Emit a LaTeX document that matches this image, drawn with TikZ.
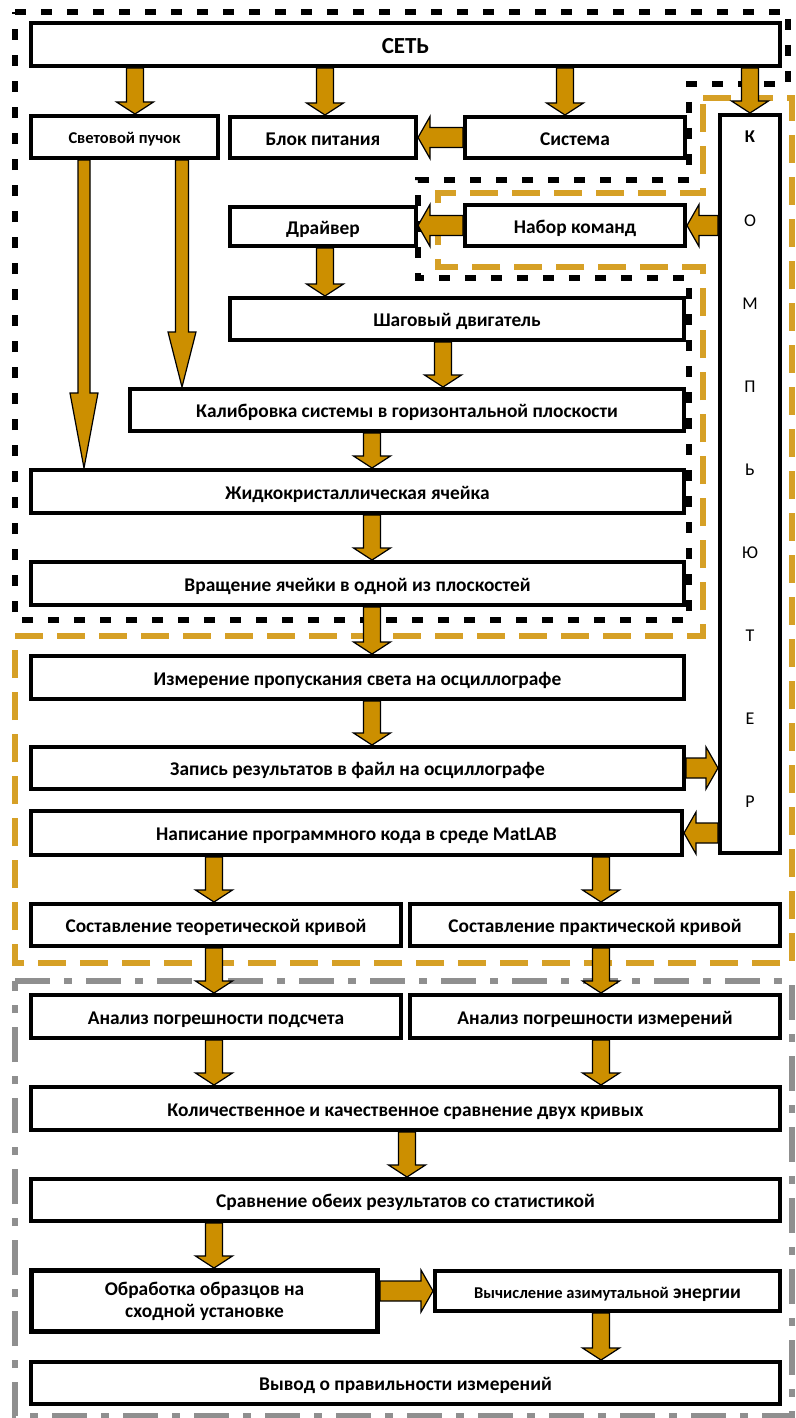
\documentclass[tikz,border=0pt]{standalone}
\usepackage{fontspec}
\setmainfont{Carlito}
\usetikzlibrary{calc}
\definecolor{arrc}{RGB}{204,143,0}
\definecolor{goldc}{RGB}{214,160,38}
\definecolor{greyc}{RGB}{143,143,143}
\newcommand\mainsize{\fontsize{19.4}{22}\selectfont}
\newcommand\smallsz{\fontsize{16.5}{19}\selectfont}
\newcommand\bx[7][]{\node[box,minimum width={(#5-#3-4)*1pt},minimum height={(#6-#4-4)*1pt},#1] (#2) at (#3,#4) {#7};}
\newcommand\blkgen[5]{\coordinate (bs) at (#1); \coordinate (be) at (#2); \coordinate (bh) at ($(be)!#5!(bs)$);
 \draw[barrow] ($(bs)!#3!90:(be)$) -- ($(bh)!#3!90:(be)$) -- ($(bh)!#4!90:(be)$) -- (be) -- ($(bh)!#4!-90:(be)$) -- ($(bh)!#3!-90:(be)$) -- ($(bs)!#3!-90:(be)$) -- cycle;}
\newcommand\blkv[2]{\blkgen{#1}{#2}{8.5pt}{18.5pt}{12pt}}
\newcommand\blkh[2]{\blkgen{#1}{#2}{10pt}{21pt}{12pt}}
\tikzset{
  box/.style={draw, line width=4pt, fill=white, anchor=north west, inner sep=1pt, align=center, font=\bfseries\mainsize, text height=15.5pt, text depth=0pt},
  barrow/.style={fill=arrc, draw=black, line width=1.2pt, line join=miter},
  bdash/.style={draw=black, line width=5.5pt, dash pattern=on 11pt off 15pt},
  gdash/.style={draw=goldc, line width=5.5pt, dash pattern=on 28pt off 14pt},
  gydash/.style={draw=greyc, line width=5.5pt, dash pattern=on 35pt off 14pt on 8pt off 14pt},
}
\begin{document}
\begin{tikzpicture}[x=1pt, y=-1pt]
\useasboundingbox (0,0) rectangle (795,1418);
\fill[white] (0,0) rectangle (795,1418);
% frames
\draw[bdash] (15,12) -- (788,12) -- (788,84) -- (689,84) -- (689,180) -- (418,180) -- (418,278) -- (689,278) -- (689,620) -- (15,620) -- cycle;
\draw[gdash] (703,98) -- (792,98) -- (792,963) -- (15,963) -- (15,636) -- (703,636) -- (703,267) -- (438,267) -- (438,193) -- (703,193) -- cycle;
\draw[gydash] (15,981) -- (792,981) -- (792,1416) -- (15,1416) -- cycle;
% boxes
\bx[font=\bfseries\fontsize{23}{26}\selectfont, text height=17.5pt]{set}{29}{21}{782}{68}{СЕТЬ}
\bx[font=\bfseries\smallsz, text height=13.5pt]{svet}{29}{114}{220}{160}{Световой пучок}
\bx{blok}{228}{115}{418}{160}{Блок питания}
\bx{sys}{463}{115}{687}{160}{Система}
\bx{comp}{718}{113}{782}{855}{}
\bx{drv}{228}{205}{418}{248}{Драйвер}
\bx{nab}{463}{203}{687}{248}{Набор команд}
\bx{shag}{228}{296}{686}{342}{Шаговый двигатель}
\bx{kal}{128}{387}{686}{433}{Калибровка системы в горизонтальной плоскости}
\bx{zhk}{29}{468}{686}{515}{Жидкокристаллическая ячейка}
\bx{vr}{29}{560}{686}{607}{Вращение ячейки в одной из плоскостей}
\bx{izm}{29}{654}{686}{701}{Измерение пропускания света на осциллографе}
\bx{zap}{29}{745}{686}{791}{Запись результатов в файл на осциллографе}
\bx{nap}{29}{809}{684}{857}{Написание программного кода в среде MatLAB}
\bx{teor}{29}{902}{403}{948}{Составление теоретической кривой}
\bx{prak}{408}{902}{782}{948}{Составление практической кривой}
\bx{an1}{29}{993}{403}{1040}{Анализ погрешности подсчета}
\bx{an2}{408}{993}{782}{1040}{Анализ погрешности измерений}
\bx{kol}{29}{1085}{782}{1132}{Количественное и качественное сравнение двух кривых}
\bx{srav}{29}{1177}{782}{1223}{Сравнение обеих результатов со статистикой}
\bx[line width=5pt, text height=, text depth=]{obr}{29}{1268}{379}{1333}{Обработка образцов на\\сходной установке}
\bx{vych}{433}{1269}{782}{1313}{{\smallsz Вычисление азимутальной} энергии}
\bx{vyv}{29}{1360}{782}{1406}{Вывод о правильности измерений}
\node[font=\fontsize{18}{83.1}\selectfont, align=center] (comptxt) at (750,469.5) {\textbf{К}\\О\\М\\П\\Ь\\Ю\\Т\\Е\\Р};
% arrows
\blkv{135,0 |- set.south}{135,0 |- svet.north}
\blkv{325,0 |- set.south}{325,0 |- blok.north}
\blkv{565,0 |- set.south}{565,0 |- sys.north}
\blkv{750,0 |- set.south}{750,0 |- comp.north}
\blkv{325,0 |- drv.south}{325,0 |- shag.north}
\blkv{443,0 |- shag.south}{443,0 |- kal.north}
\blkv{372,0 |- kal.south}{372,0 |- zhk.north}
\blkv{372,0 |- zhk.south}{372,0 |- vr.north}
\blkv{372,0 |- vr.south}{372,0 |- izm.north}
\blkv{372,0 |- izm.south}{372,0 |- zap.north}
\blkv{214,0 |- nap.south}{214,0 |- teor.north}
\blkv{601,0 |- nap.south}{601,0 |- prak.north}
\blkv{214,0 |- teor.south}{214,0 |- an1.north}
\blkv{601,0 |- prak.south}{601,0 |- an2.north}
\blkv{214,0 |- an1.south}{214,0 |- kol.north}
\blkv{601,0 |- an2.south}{601,0 |- kol.north}
\blkv{407,0 |- kol.south}{407,0 |- srav.north}
\blkv{214,0 |- srav.south}{214,0 |- obr.north}
\blkv{601,0 |- vych.south}{601,0 |- vyv.north}
\blkgen{84,0 |- svet.south}{84,0 |- zhk.north}{6pt}{14pt}{75pt}
\blkgen{182,0 |- svet.south}{182,0 |- kal.north}{6.5pt}{14pt}{55pt}
\blkh{sys.west}{blok.east |- sys.west}
\blkh{comp.west |- nab.west}{nab.east}
\blkh{nab.west}{drv.east |- nab.west}
\blkh{zap.east}{comp.west |- zap.east}
\blkh{comp.west |- nap.east}{nap.east}
\blkh{obr.east |- vych.west}{vych.west}
\end{tikzpicture}
\end{document}
